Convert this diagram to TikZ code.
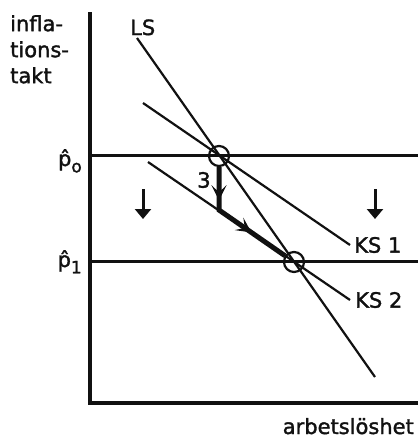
\documentclass[tikz,border=0pt]{standalone}
\usepackage{fontspec}
\setmainfont{DejaVu Sans}[BoldFont={DejaVu Sans},BoldFeatures={FakeBold=1.6}]
\usetikzlibrary{positioning,arrows.meta,decorations.markings}
\definecolor{cInk}{HTML}{111111}
\newcommand{\phatsub}[1]{\^{p}\raisebox{-0.3em}{\fontsize{17}{17}\selectfont #1}}

\begin{document}
\begin{tikzpicture}[x=1pt,y=-1pt,
    every node/.style={font=\fontsize{21}{26}\selectfont\bfseries,inner sep=0pt,text=cInk},
    axisline/.style={draw=cInk,line width=3.6pt},
    rateline/.style={draw=cInk,line width=3pt},
    curve/.style={draw=cInk,line width=2.2pt},
    eqpt/.style={circle,draw=cInk,line width=2.2pt,minimum size=20pt},
    adjpath/.style={draw=cInk,line width=5pt,
      postaction={decorate},
      decoration={markings,
        mark=at position 0.27 with {\arrow{Stealth[length=15pt,width=15pt,inset=7pt]}},
        mark=at position 0.67 with {\arrow{Stealth[length=15pt,width=15pt,inset=7pt]}}}},
    shiftarrow/.style={draw=cInk,line width=3pt,-{Triangle[length=10pt,width=16pt]}}]
    \useasboundingbox (0,0) rectangle (418,439);
    \coordinate (yTop) at (90,12);
    \coordinate (origin) at (90,403);
    \coordinate (xEnd) at (418,403);
    \draw[axisline] (yTop) -- (origin) -- (xEnd);
    \node[anchor=north west,align=left] (ylab) at (10,15) {infla-\\tions-\\takt};
    \node[anchor=base east] (xlab) at (414,434) {arbetslöshet};
    % inflation levels
    \coordinate (p0L) at (90,155);
    \coordinate (p0R) at (418,155);
    \coordinate (p1L) at (90,261);
    \coordinate (p1R) at (418,261);
    \draw[rateline] (p0L) -- (p0R);
    \draw[rateline] (p1L) -- (p1R);
    \node[anchor=base east] (p0lab) at (82,166) {\phatsub{o}};
    \node[anchor=base east] (p1lab) at (82,267) {\phatsub{1}};
    % curves
    \coordinate (lsA) at (137,38);
    \coordinate (lsB) at (375,377);
    \coordinate (ks1A) at (143,103);
    \coordinate (ks1B) at (350,245);
    \coordinate (ks2A) at (148,162);
    \coordinate (ks2B) at (350,300);
    \draw[curve] (lsA) -- (lsB);
    \draw[curve] (ks1A) -- (ks1B);
    \draw[curve] (ks2A) -- (ks2B);
    \node[anchor=base west] (lslab) at (130,35) {LS};
    \node[right=4pt of ks1B] (ks1lab) {KS 1};
    \node[right=5pt of ks2B] (ks2lab) {KS 2};
    % adjustment
    \node[eqpt] (e0) at (219,156) {};
    \node[eqpt] (e1) at (294,262) {};
    \coordinate (corner) at (219,210);
    \draw[adjpath] (e0) -- (corner) -- (e1);
    \node (step3) at (204,180) {3};
    \coordinate (dlA) at (143,189);
    \coordinate (dlB) at (143,219);
    \coordinate (drA) at (375,189);
    \coordinate (drB) at (375,219);
    \draw[shiftarrow] (dlA) -- (dlB);
    \draw[shiftarrow] (drA) -- (drB);
  \end{tikzpicture}
\end{document}
